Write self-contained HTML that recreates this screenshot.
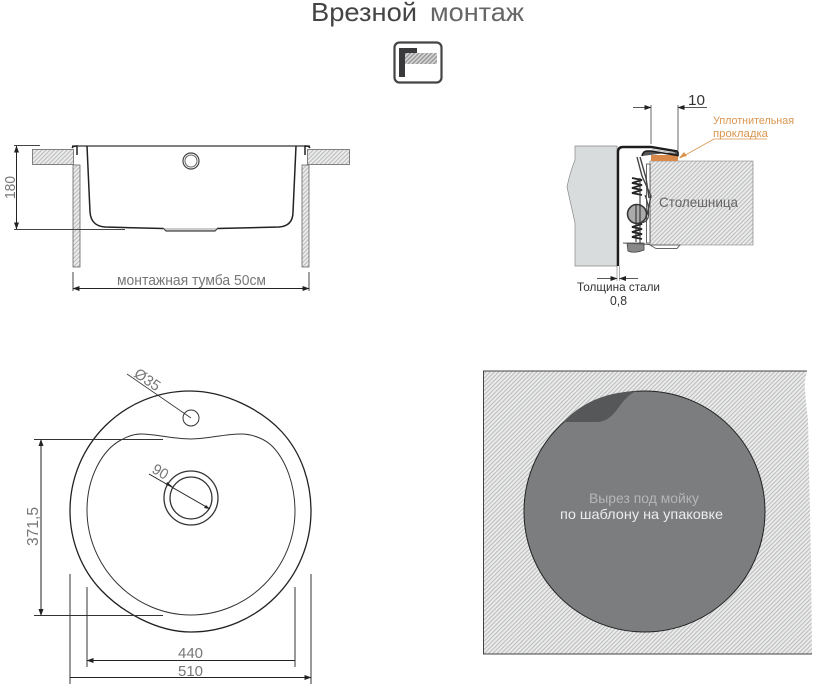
<!DOCTYPE html>
<html><head><meta charset="utf-8"><style>
html,body{margin:0;padding:0;background:#fff;width:817px;height:689px;overflow:hidden}
svg{display:block}
text{font-family:"Liberation Sans",sans-serif}
</style></head><body>
<svg width="817" height="689" viewBox="0 0 817 689" xmlns="http://www.w3.org/2000/svg">
<defs>
<pattern id="h" width="3" height="3" patternUnits="userSpaceOnUse" patternTransform="rotate(45)">
<rect width="3" height="3" fill="#ececec"/><rect width="1.1" height="3" fill="#bcbdbd"/>
</pattern>
<pattern id="h2" width="3" height="3" patternUnits="userSpaceOnUse" patternTransform="rotate(45)">
<rect width="3" height="3" fill="#d8d8d8"/><rect width="1.5" height="3" fill="#999"/>
</pattern>
<marker id="a" markerWidth="7" markerHeight="5" refX="6.5" refY="2.5" orient="auto-start-reverse" markerUnits="userSpaceOnUse"><path d="M0 0L7 2.5L0 5Z" fill="#222"/></marker>
</defs>

<!-- title -->
<text x="311" y="21" font-size="26" fill="#444" textLength="106" lengthAdjust="spacingAndGlyphs">Врезной</text>
<text x="430" y="21" font-size="26" fill="#666" textLength="94" lengthAdjust="spacingAndGlyphs">монтаж</text>
<rect x="394.500" y="42.500" width="47" height="40" rx="5" fill="#fff" stroke="#444" stroke-width="2.200"/>
<rect x="405" y="53" width="32" height="11" fill="url(#h2)"/>
<path d="M399 48H417V53H405V77H399Z" fill="#3a3a3c"/>

<!-- side view -->
<rect x="32.500" y="149.500" width="41" height="15" fill="url(#h)" stroke="#666" stroke-width=".8"/>
<rect x="307.500" y="149.500" width="42" height="15" fill="url(#h)" stroke="#666" stroke-width=".8"/>
<rect x="73" y="165" width="7" height="102" fill="url(#h)" stroke="#666" stroke-width=".8"/>
<rect x="302" y="165" width="7" height="102" fill="url(#h)" stroke="#666" stroke-width=".8"/>
<path d="M72 146H310" stroke="#333" stroke-width="1.200" fill="none"/>
<path d="M87 146L90 212Q91 226 105 227L163 228.500M217 228.500L279 227Q293 226 293 212L296 146" stroke="#222" stroke-width="1.500" fill="none"/>
<path d="M163 228L166 231H215L218 228" stroke="#444" stroke-width="1.200" fill="#ccc"/>
<path d="M72 148Q73 146 77 146V155M310 148Q309 146 305 146V155" stroke="#222" stroke-width="1.500" fill="none"/>
<circle cx="191" cy="161" r="8" fill="#fff" stroke="#444" stroke-width="1.200"/>
<circle cx="191" cy="161" r="6" fill="none" stroke="#666" stroke-width="1"/>
<path d="M14 145.500H40M14 229.500H125" stroke="#444" stroke-width="1"/>
<path d="M16.500 146V229" stroke="#222" stroke-width="1" marker-start="url(#a)" marker-end="url(#a)"/>
<text transform="translate(15 199) rotate(-90)" font-size="15" fill="#777" textLength="23" lengthAdjust="spacingAndGlyphs">180</text>
<path d="M73 272V291M309 272V291" stroke="#444" stroke-width="1"/>
<path d="M73 288.500H309" stroke="#222" stroke-width="1" marker-start="url(#a)" marker-end="url(#a)"/>
<text x="117" y="285" font-size="14.500" fill="#777" textLength="149" lengthAdjust="spacingAndGlyphs">монтажная тумба 50см</text>

<!-- section detail -->
<path d="M575 146H617V266H575V223Q571 205 567 187Q570 172 575 160Z" fill="#d9dcdc" stroke="#888" stroke-width=".7"/>
<path d="M650 161H753V245H650Z" fill="url(#h)" stroke="#777" stroke-width=".6"/>
<rect x="651" y="155" width="27" height="6" fill="#d98a4a"/>
<path d="M646.500 164H650V243H646.500Z" fill="#fff" stroke="#444" stroke-width=".8"/>
<path d="M618 266V152Q618 147 623 147H651L678 151.500" stroke="#1c1c1c" stroke-width="2.400" fill="none"/>
<path d="M678 151.500L678 155.500L651 151H647Q643 151 642 156" stroke="#1c1c1c" stroke-width="1.600" fill="#555"/>
<path d="M652 149.500L675 153" stroke="#bbb" stroke-width="1"/>
<path d="M637 157L642 176L651 196L647 215M640 157L646 178L649 198" stroke="#444" stroke-width="1.400" fill="none"/>
<path d="M632 178l10 2l-10 3l10 2l-10 3l10 2l-10 3l10 2M632 222l10 2l-10 3l10 2l-10 3l10 2l-10 3l10 2" stroke="#222" stroke-width="1.800" fill="none"/>
<circle cx="637" cy="214" r="9.500" fill="#aaa" stroke="#333" stroke-width="1.500"/>
<path d="M636 205V242M640 178V243" stroke="#333" stroke-width="1.100"/>
<path d="M645 195Q650 208 648 218Q645 224 640 222" stroke="#444" stroke-width="1.200" fill="none"/>
<path d="M627 243H644L644 250Q634 254 628 251Z" fill="#888" stroke="#444" stroke-width=".8"/>
<path d="M623 243L650 244.500" stroke="#555" stroke-width="1" fill="none"/>
<path d="M650 245H680L677 248.500H656L650 245Z" fill="#fff" stroke="#666" stroke-width="1"/>
<path d="M651 144V105M678 150V105" stroke="#444" stroke-width=".8"/>
<path d="M633 107.500H651" stroke="#222" stroke-width=".8" marker-end="url(#a)"/>
<path d="M707 107.500H678" stroke="#222" stroke-width=".8" marker-end="url(#a)"/>
<text x="688" y="105" font-size="15" fill="#333" textLength="17" lengthAdjust="spacingAndGlyphs">10</text>
<text x="713" y="124" font-size="11" fill="#d9954f" textLength="81" lengthAdjust="spacingAndGlyphs">Уплотнительная</text>
<text x="713" y="137" font-size="11" fill="#d9954f" textLength="55" lengthAdjust="spacingAndGlyphs">прокладка</text>
<path d="M767 139H714L680 158" stroke="#d9954f" stroke-width=".8" fill="none"/>
<path d="M679 158L687 156L684 152Z" fill="#d9954f"/>
<text x="659" y="207" font-size="14" fill="#666" textLength="79" lengthAdjust="spacingAndGlyphs">Столешница</text>
<path d="M617 266V281M619.500 266V281" stroke="#777" stroke-width=".6"/>
<path d="M597 278.500H617" stroke="#222" stroke-width=".8" marker-end="url(#a)"/>
<path d="M638 278.500H619.500" stroke="#222" stroke-width=".8" marker-end="url(#a)"/>
<text x="577" y="291" font-size="12" fill="#333" textLength="83" lengthAdjust="spacingAndGlyphs">Толщина стали</text>
<text x="610" y="305" font-size="12.500" fill="#333" textLength="17" lengthAdjust="spacingAndGlyphs">0,8</text>

<!-- plan view -->
<path d="M70 511C70 444 124 391 190 391C225 391 262 410 282 432C302 454 311 483 311 511C311 578 257 632 191 632C156 632 121 611 101 590C81 569 70 540 70 511Z" fill="#fff" stroke="#222" stroke-width="1.300"/>
<path d="M87 510C87 478 102 450 121 440C128 436 134 434 141 434C156 434 172 439 191 439C207 439 224 434 241 434C254 434 266 440 272 446C286 460 295 485 295 511C295 568 248 615 191 615C134 615 87 567 87 510Z" fill="#fff" stroke="#333" stroke-width="1"/>
<circle cx="191" cy="418" r="8" fill="#fff" stroke="#333" stroke-width="1"/>
<circle cx="191" cy="498" r="27" fill="none" stroke="#333" stroke-width="1.300"/>
<circle cx="191" cy="498" r="21" fill="none" stroke="#333" stroke-width="1.300"/>
<path d="M127 374L191 418" stroke="#333" stroke-width=".8"/>
<text transform="translate(133 376) rotate(34)" font-size="15" fill="#777" textLength="28" lengthAdjust="spacingAndGlyphs">Ø35</text>
<path d="M149 474L210 509" stroke="#222" stroke-width="1"/>
<path d="M173 487l-6 -5l-1 3ZM210 509l-6 -1l2 -3Z" fill="#222"/>
<text transform="translate(151 472) rotate(30)" font-size="15" fill="#777" textLength="16" lengthAdjust="spacingAndGlyphs">90</text>
<path d="M34 439.500H163M34 615.500H163" stroke="#333" stroke-width="1"/>
<path d="M41 439.500V615.500" stroke="#222" stroke-width="1" marker-start="url(#a)" marker-end="url(#a)"/>
<text transform="translate(38 546) rotate(-90)" font-size="15.500" fill="#777" textLength="39" lengthAdjust="spacingAndGlyphs">371,5</text>
<path d="M87 587V667M295 587V667M70 574V684M311 574V684" stroke="#333" stroke-width="1"/>
<path d="M87 660.500H295M70 677.500H311" stroke="#222" stroke-width="1" marker-start="url(#a)" marker-end="url(#a)"/>
<text x="178" y="658" font-size="15" fill="#777" textLength="25" lengthAdjust="spacingAndGlyphs">440</text>
<text x="178" y="676" font-size="15" fill="#777" textLength="25" lengthAdjust="spacingAndGlyphs">510</text>

<!-- cutout -->
<path d="M483.500 371H807Q804 380 805 390Q806 405 808 420L811 560L812 654H483.500Z" fill="url(#h)"/>
<path d="M807 371H483.500V654H812" fill="none" stroke="#444" stroke-width="1"/>
<circle cx="644.500" cy="511.500" r="120.500" fill="#7b7d7e" stroke="#222" stroke-width="1"/>
<path d="M563 422H598C610 421 615 412 622 403C627 397 632 392 638 391C604 392 582 403 563 422Z" fill="#565759"/>
<text x="589" y="503" font-size="14" fill="#b5b7b7" textLength="110" lengthAdjust="spacingAndGlyphs">Вырез под мойку</text>
<text x="560" y="519" font-size="14" fill="#eceded" textLength="163" lengthAdjust="spacingAndGlyphs">по шаблону на упаковке</text>
</svg>
</body></html>
